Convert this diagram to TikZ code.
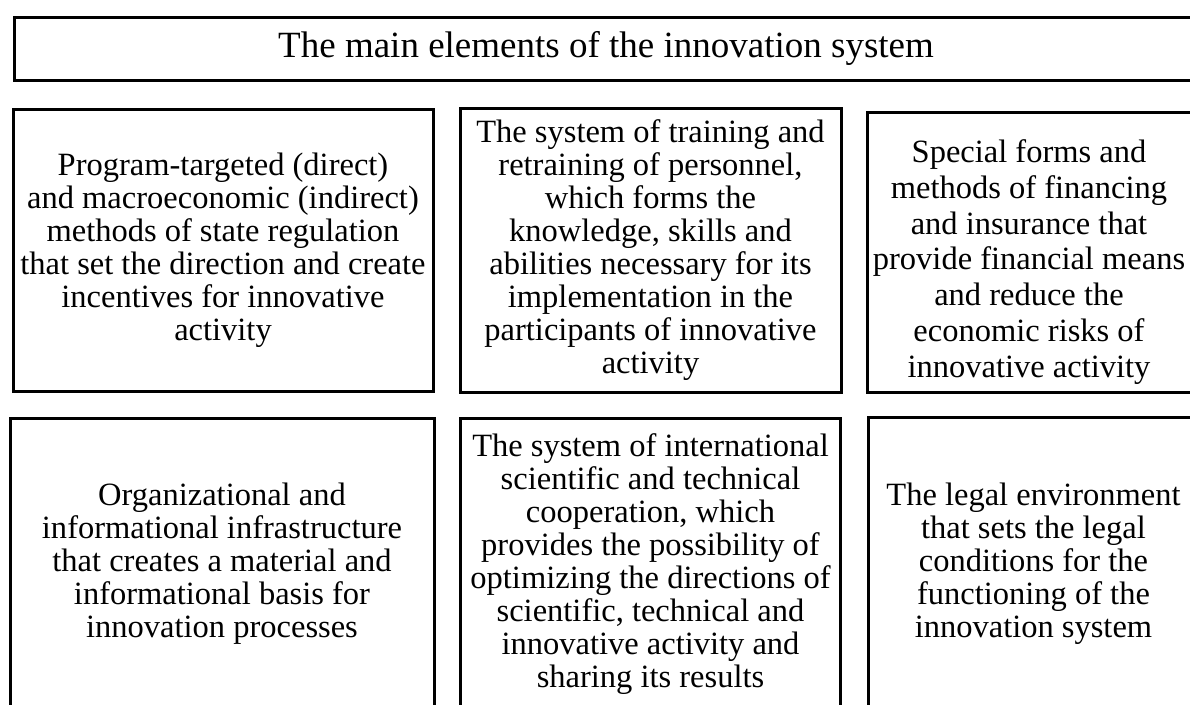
\documentclass[tikz,border=0pt]{standalone}
\usepackage{fontspec}
\setmainfont{Liberation Serif}
\begin{document}
\begin{tikzpicture}[x=1pt,y=-1pt,
  elembox/.style={draw=black, line width=3pt, rectangle, inner sep=0pt, align=center,
    font=\fontsize{32.5}{33}\selectfont},
  elemtext/.style={inner sep=0pt, align=center, font=\fontsize{32.5}{35.7}\selectfont},
  titlebox/.style={draw=black, line width=3pt, rectangle, inner sep=0pt, align=center,
    font=\fontsize{37}{40}\selectfont}]
\useasboundingbox (0,0) rectangle (1190,704);
\clip (0,0) rectangle (1190,704);
\fill[white] (0,0) rectangle (1190,704);

\node[titlebox, minimum width=1184pt, minimum height=63pt] (title) at (606,48.5)
  {The main elements of the innovation system};

\node[elembox, minimum width=420pt, minimum height=282pt] (b1) at (223,250)
  {Program-targeted (direct)\\and macroeconomic (indirect)\\methods of state regulation\\that set the direction and create\\incentives for innovative\\activity};

\node[elembox, minimum width=381pt, minimum height=284pt] (b2) at (650.5,250)
  {The system of training and\\retraining of personnel,\\which forms the\\knowledge, skills and\\abilities necessary for its\\implementation in the\\participants of innovative\\activity};

\node[elembox, minimum width=324pt, minimum height=280pt] (b3) at (1029,252) {};
\node[elemtext] (b3text) at (1029,262)
  {Special forms and\\methods of financing\\and insurance that\\provide financial means\\and reduce the\\economic risks of\\innovative activity};

\node[elembox, minimum width=424pt, minimum height=292pt] (b4) at (222,564)
  {Organizational and\\informational infrastructure\\that creates a material and\\informational basis for\\innovation processes};

\node[elembox, minimum width=380pt, minimum height=293pt] (b5) at (650.5,564.5)
  {The system of international\\scientific and technical\\cooperation, which\\provides the possibility of\\optimizing the directions of\\scientific, technical and\\innovative activity and\\sharing its results};

\node[elembox, minimum width=331pt, minimum height=293pt] (b6) at (1033.5,563.5)
  {The legal environment\\that sets the legal\\conditions for the\\functioning of the\\innovation system};
\end{tikzpicture}
\end{document}
